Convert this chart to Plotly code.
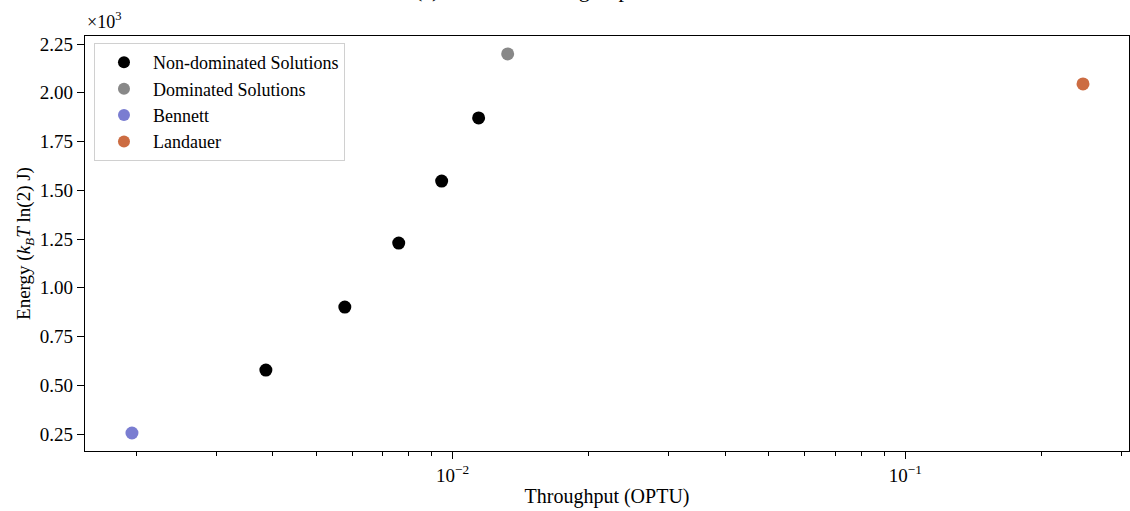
import plotly.graph_objects as go

# Data (throughput in OPTU, energy in kBT ln(2) J)
nondom_x = [0.003866, 0.005777, 0.007600, 0.009456, 0.011412]
nondom_y = [578, 901, 1229, 1547, 1871]
dom_x = [0.01323]
dom_y = [2199]
bennett_x = [0.001956]
bennett_y = [255]
landauer_x = [0.2471]
landauer_y = [2045]

y_ticks = [0.25, 0.50, 0.75, 1.00, 1.25, 1.50, 1.75, 2.00, 2.25]
x_ticks = [0.01, 0.1]
x_ticktext = ["10<sup>\u22122</sup>", "10<sup>\u22121</sup>"]
x_minor = [k * 10.0 ** e for e in (-3, -2, -1) for k in range(2, 10)]

FONT = "Liberation Serif"
fig = go.Figure()

def add(name, xs, ys, color):
    fig.add_trace(go.Scatter(
        x=xs, y=[v / 1000 for v in ys], mode="markers", name=name,
        marker=dict(color=color, size=13, line=dict(width=0)),
    ))

add("Non-dominated Solutions", nondom_x, nondom_y, "#000000")
add("Dominated Solutions", dom_x, dom_y, "#888888")
add("Bennett", bennett_x, bennett_y, "#7a7dd1")
add("Landauer", landauer_x, landauer_y, "#cc6c42")

fig.update_layout(
    width=1130, height=511,
    margin=dict(l=85, r=1, t=36, b=60),
    plot_bgcolor="white", paper_bgcolor="white",
    font=dict(family=FONT, size=19, color="black"),
    showlegend=True,
    legend=dict(
        x=0.0086, y=0.983, xanchor="left", yanchor="top",
        bgcolor="white", bordercolor="#d0d0d0", borderwidth=1,
        font=dict(family=FONT, size=18),
        tracegroupgap=0, itemsizing="constant", itemwidth=48,
    ),
)

fig.update_xaxes(
    type="log", range=[-2.8124, -0.5055],
    tickmode="array", tickvals=x_ticks, ticktext=x_ticktext,
    ticks="outside", ticklen=7, tickwidth=1, tickcolor="black",
    minor=dict(tickmode="array", tickvals=x_minor, ticks="outside",
               ticklen=4, tickwidth=1, tickcolor="black", showgrid=False),
    showgrid=False, zeroline=False,
    showline=True, linecolor="black", linewidth=1.2, mirror=True,
    tickfont=dict(family=FONT, size=19),
    title=dict(text="Throughput (OPTU)", font=dict(family=FONT, size=20), standoff=4),
)
fig.update_yaxes(
    range=[0.1628, 2.291],
    tickmode="array", tickvals=y_ticks,
    ticktext=[f"{v:.2f}" for v in y_ticks],
    ticks="outside", ticklen=7, tickwidth=1, tickcolor="black",
    showgrid=False, zeroline=False,
    showline=True, linecolor="black", linewidth=1.2, mirror=True,
    tickfont=dict(family=FONT, size=19),
    title=dict(text="Energy (<i>k<sub>B</sub>T</i> ln(2) J)",
               font=dict(family=FONT, size=19), standoff=4),
)

fig.add_annotation(
    text="\u00d710<sup>3</sup>", xref="paper", yref="paper", x=0, y=1,
    xanchor="left", yanchor="bottom", yshift=2, showarrow=False,
    font=dict(family=FONT, size=18),
)
# Title, mostly above the visible page (only its lower edge shows)
fig.add_annotation(
    text="(a) Evaluated Design Space Results Overall", xref="paper", yref="paper",
    x=0.5, y=1, xanchor="center", yanchor="bottom", yshift=32,
    showarrow=False, font=dict(family=FONT, size=22),
)

fig.write_html("out.html")
